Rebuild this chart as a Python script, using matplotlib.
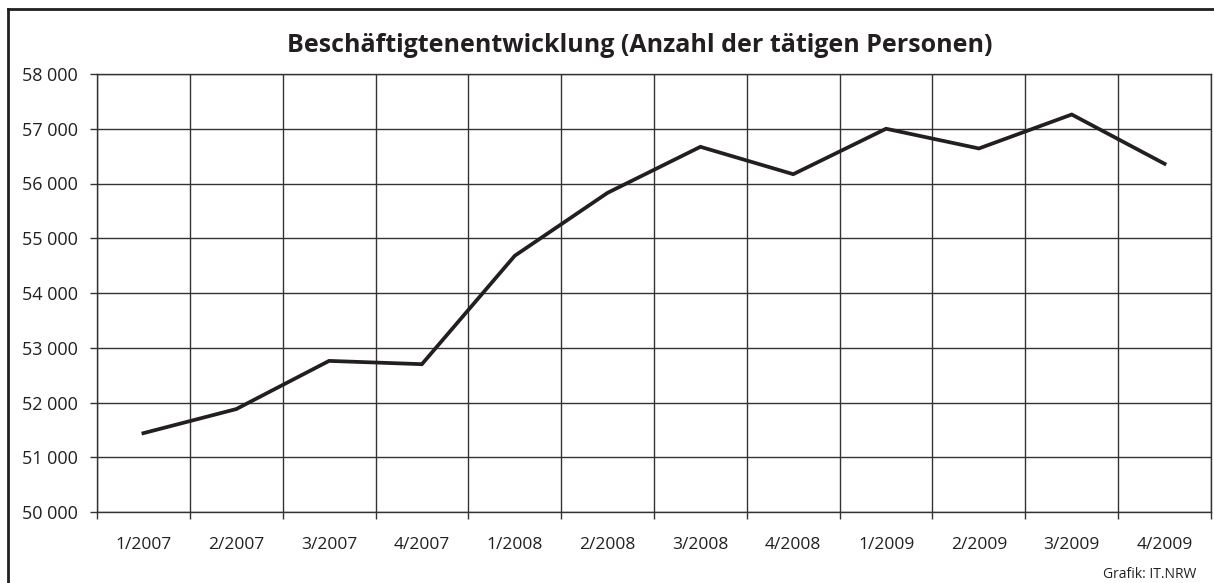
import matplotlib.pyplot as plt
from matplotlib.ticker import FixedLocator, FuncFormatter
from matplotlib.lines import Line2D

# Quartale und Anzahl der tätigen Personen
quartale = ["1/2007", "2/2007", "3/2007", "4/2007",
            "1/2008", "2/2008", "3/2008", "4/2008",
            "1/2009", "2/2009", "3/2009", "4/2009"]
personen = [51440, 51880, 52760, 52700,
            54680, 55830, 56670, 56170,
            57000, 56640, 57260, 56360]

plt.rcParams['font.family'] = ['Open Sans', 'DejaVu Sans']

fig = plt.figure(figsize=(12.14, 5.83), dpi=100)
ax = fig.add_axes([97/1214, 1 - 512/583, (1211-97)/1214, (512-74)/583])

x = list(range(len(quartale)))
ax.plot(x, personen, color='#231f20', linewidth=2.7, solid_joinstyle='miter', zorder=3)

ax.set_xlim(-0.5, len(quartale) - 0.5)
ax.set_ylim(50000, 58000)

# Beschriftung in der Mitte, Striche an den Grenzen
ax.xaxis.set_major_locator(FixedLocator(x))
ax.set_xticklabels(quartale)
ax.xaxis.set_minor_locator(FixedLocator([i - 0.5 for i in range(len(quartale) + 1)]))
ax.tick_params(axis='x', which='major', length=0, pad=18, labelsize=12.5, labelcolor='#231f20')
ax.tick_params(axis='x', which='minor', length=5, width=1, color='#333333', direction='out')
ax.set_yticks(range(50000, 58001, 1000))
ax.yaxis.set_major_formatter(FuncFormatter(lambda v, p: f"{int(v):,}".replace(",", " ")))
ax.tick_params(axis='y', length=5, width=1, color='#333333', pad=8.5, labelsize=13, labelcolor='#231f20')

ax.grid(axis='x', which='minor', color='#333333', linewidth=1)
ax.grid(axis='y', which='major', color='#333333', linewidth=1)
ax.set_axisbelow(True)
for s in ax.spines.values():
    s.set_color('#333333')
    s.set_linewidth(1)

fig.text(640/1214, 1 - 45/583, "Beschäftigtenentwicklung (Anzahl der tätigen Personen)",
         ha='center', va='center', fontsize=18, fontweight='bold', color='#231f20')
fig.text(1196/1214, 1 - 574/583, "Grafik: IT.NRW", ha='right', va='center', fontsize=10, color='#231f20')

# Rahmen (links und oben sichtbar)
fig.add_artist(Line2D([8/1214, 8/1214], [0, 1 - 9/583], transform=fig.transFigure, color='#231f20', linewidth=2))
fig.add_artist(Line2D([8/1214, 1], [1 - 9/583, 1 - 9/583], transform=fig.transFigure, color='#231f20', linewidth=2))

fig.savefig("out.png", dpi=100)
